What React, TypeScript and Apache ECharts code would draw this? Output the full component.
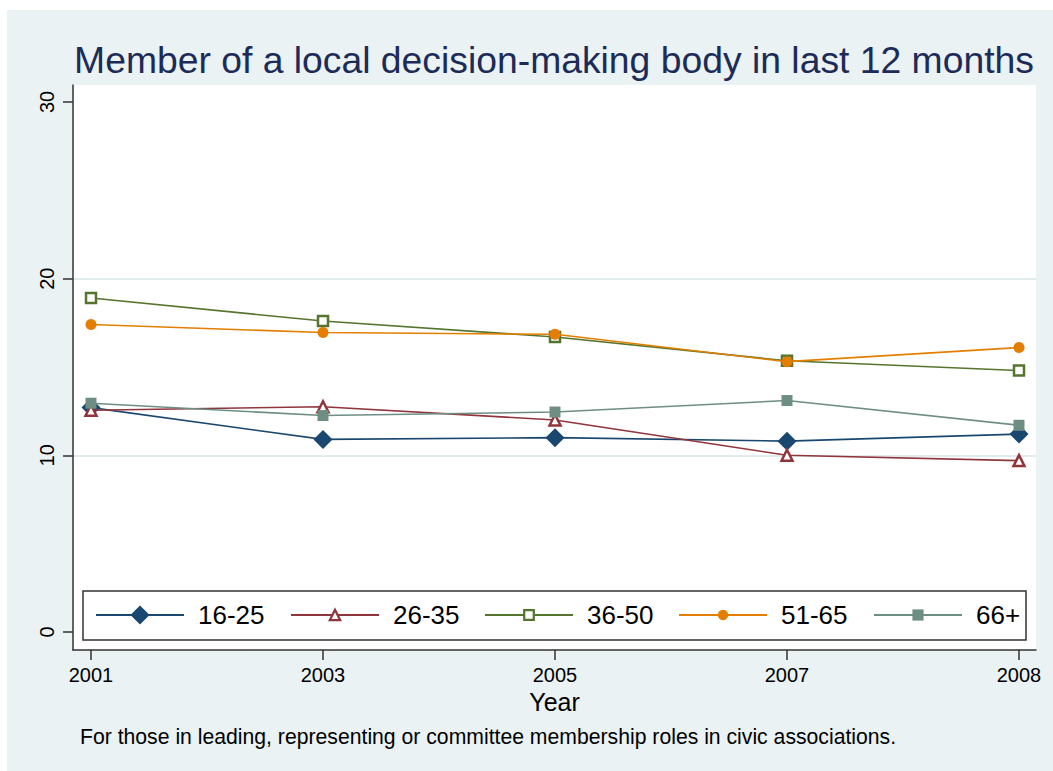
import React, { useEffect, useRef } from "react";
import * as echarts from "echarts";

const YEARS = ["2001", "2003", "2005", "2007", "2008"];
const SERIES_NAMES = ["16-25", "26-35", "36-50", "51-65", "66+"];
const AGE_16_25 = [12.7, 10.9, 11.0, 10.8, 11.2];
const AGE_26_35 = [12.55, 12.75, 12.0, 10.0, 9.7];
const AGE_36_50 = [18.9, 17.6, 16.7, 15.35, 14.8];
const AGE_51_65 = [17.4, 16.95, 16.85, 15.3, 16.1];
const AGE_66_PLUS = [12.95, 12.25, 12.45, 13.1, 11.7];
const Y_TICKS = [0, 10, 20, 30];

const TITLE = "Member of a local decision-making body in last 12 months";
const NOTE = "For those in leading, representing or committee membership roles in civic associations.";
const X_NAME = "Year";

const FONT = "'Liberation Sans', Arial, Helvetica, sans-serif";
const COLORS = ["#1a476f", "#90353b", "#55752f", "#e37e00", "#6e8e84"];
const BG = "#eaf2f3";

export default function App() {
  const ref = useRef<HTMLDivElement>(null);
  useEffect(() => {
    document.body.style.margin = "0";
    if (!ref.current) return;
    const chart = echarts.init(ref.current, undefined, { renderer: "svg" });
    const values = [AGE_16_25, AGE_26_35, AGE_36_50, AGE_51_65, AGE_66_PLUS];
    const symbols = ["diamond", "triangle", "rect", "circle", "rect"];
    const sizes = [19, 11, 10, 11, 11];
    const hollow = [false, true, true, false, false];
    const legendLeft = [95, 290, 484, 678, 873];
    const legendH = [24, 13, 12, 13, 14];

    const series = SERIES_NAMES.map((name, k) => ({
      name,
      type: "line",
      data: YEARS.map((_, i) => [i, values[k][i]]),
      symbol: symbols[k],
      symbolSize: sizes[k],
      showSymbol: true,
      lineStyle: { color: COLORS[k], width: 1.6 },
      itemStyle: hollow[k]
        ? { color: "#ffffff", borderColor: COLORS[k], borderWidth: 2.5 }
        : { color: COLORS[k], borderWidth: 0 },
      emphasis: { disabled: true },
      z: 2 + k,
    }));

    const legends = SERIES_NAMES.map((name, k) => ({
      data: [name],
      left: legendLeft[k],
      top: 600,
      orient: "horizontal",
      padding: 0,
      itemWidth: 88,
      itemHeight: legendH[k],
      selectedMode: false,
      itemStyle: hollow[k]
        ? { color: "#ffffff", borderColor: COLORS[k], borderWidth: 2.2 }
        : { borderWidth: 0 },
      textStyle: {
        fontFamily: FONT,
        fontSize: 26,
        lineHeight: 30,
        color: "#000",
        padding: [0, 0, 0, 9],
      },
      z: 5,
    }));

    chart.setOption({
      animation: false,
      backgroundColor: "#ffffff",
      textStyle: { fontFamily: FONT },
      title: [
        {
          text: TITLE,
          left: 554,
          top: 41,
          padding: 0,
          textAlign: "center",
          textStyle: {
            fontFamily: FONT,
            fontSize: 37.3,
            lineHeight: 37.3,
            fontWeight: "normal",
            color: "#1c2b58",
          },
        },
        {
          text: NOTE,
          left: 80,
          top: 726,
          padding: 0,
          textStyle: {
            fontFamily: FONT,
            fontSize: 21.2,
            lineHeight: 21.2,
            fontWeight: "normal",
            color: "#000",
          },
        },
      ],
      graphic: [
        {
          type: "rect",
          z: -10,
          shape: { x: 7, y: 10, width: 1046, height: 761 },
          style: { fill: BG },
          silent: true,
        },
        {
          type: "rect",
          z: 3,
          shape: { x: 83, y: 591, width: 943, height: 49 },
          style: { fill: "#ffffff", stroke: "#333333", lineWidth: 1.5 },
          silent: true,
        },
      ],
      grid: {
        left: 73,
        right: 17,
        top: 85,
        bottom: 121,
        show: true,
        backgroundColor: "#ffffff",
        borderWidth: 0,
      },
      legend: legends,
      xAxis: {
        type: "value",
        min: -18 / 232,
        max: 4 + 17 / 232,
        name: X_NAME,
        nameLocation: "middle",
        nameGap: 38,
        nameTextStyle: { fontFamily: FONT, fontSize: 25, lineHeight: 25, color: "#000" },
        axisLine: { show: true, onZero: false, lineStyle: { color: "#333", width: 1.5 } },
        axisTick: {
          show: true,
          length: 10,
          customValues: YEARS.map((_, i) => i),
          lineStyle: { color: "#333", width: 1.5 },
        },
        axisLabel: {
          customValues: YEARS.map((_, i) => i),
          formatter: (v: number) => YEARS[Math.round(v)] ?? "",
          fontFamily: FONT,
          fontSize: 20,
          lineHeight: 20,
          color: "#000",
          margin: 15,
        },
        splitLine: { show: false },
      },
      yAxis: {
        type: "value",
        min: -1.02,
        max: 30.96,
        axisLine: { show: true, onZero: false, lineStyle: { color: "#333", width: 1.5 } },
        axisTick: {
          show: true,
          length: 10,
          customValues: Y_TICKS,
          lineStyle: { color: "#333", width: 1.5 },
        },
        axisLabel: {
          customValues: Y_TICKS,
          rotate: 90,
          fontFamily: FONT,
          fontSize: 20,
          lineHeight: 20,
          color: "#000",
          margin: 16,
        },
        splitLine: {
          show: true,
          lineStyle: {
            color: ["rgba(0,0,0,0)", "#e3eced", "#e3eced", "rgba(0,0,0,0)"],
            width: 2,
          },
        },
      },
      series,
    });
    return () => chart.dispose();
  }, []);
  return <div ref={ref} style={{ width: 1053, height: 771 }} />;
}
